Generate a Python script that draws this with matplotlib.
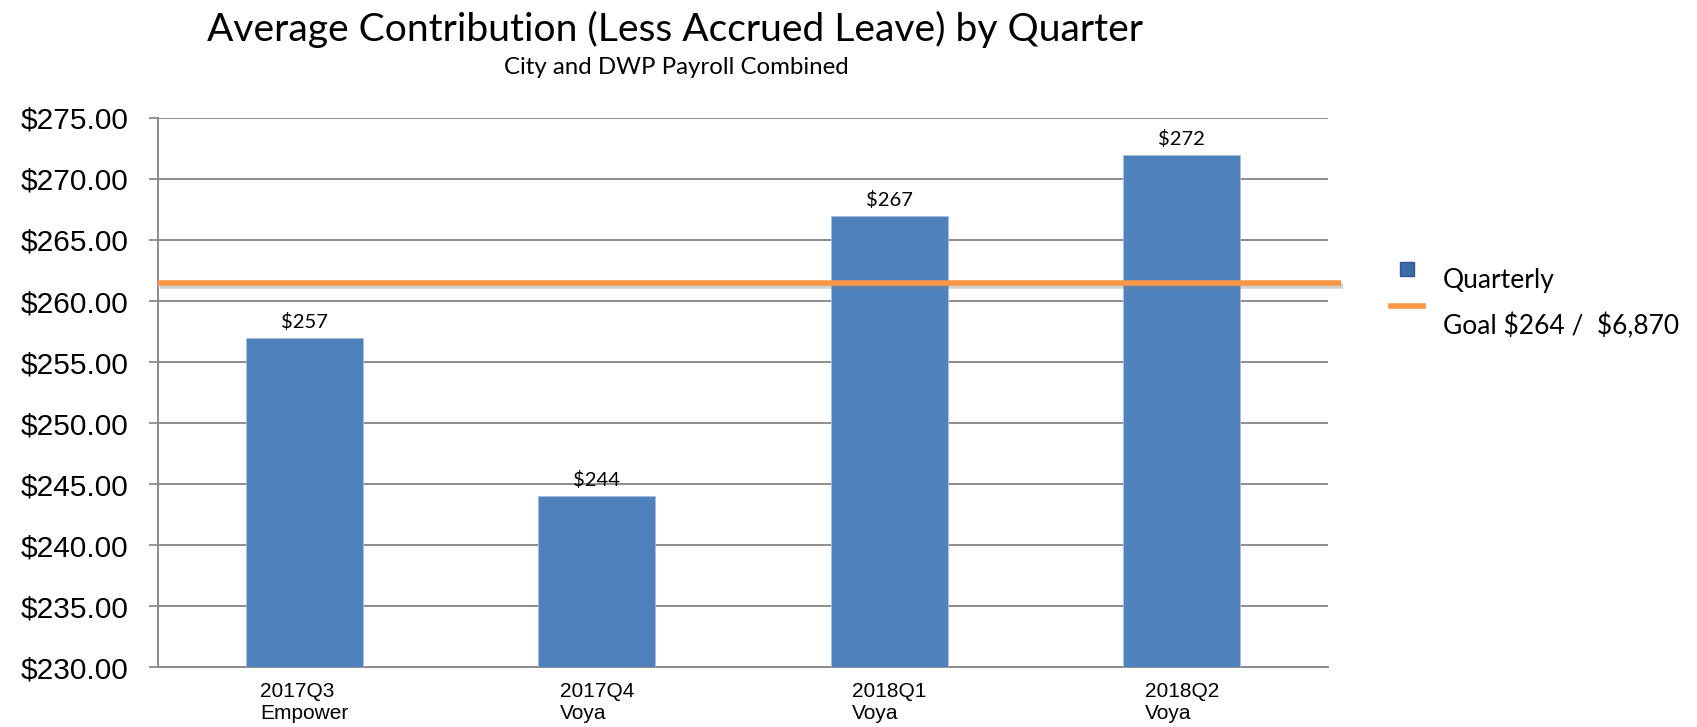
import matplotlib.pyplot as plt
import matplotlib.patheffects as pe
from matplotlib.lines import Line2D
from matplotlib.legend_handler import HandlerLine2D

# data
quarters = ["2017Q3", "2017Q4", "2018Q1", "2018Q2"]
providers = ["Empower", "Voya", "Voya", "Voya"]
avg_contribution = [257, 244, 267, 272]
goal_level = 261.5
goal_label = "Goal \\$264 /  \\$6,870"
y_ticks = [230, 235, 240, 245, 250, 255, 260, 265, 270, 275]

bar_color = "#4F81BD"
goal_color = "#F79646"
grid_color = "#8C8C8C"


class RaisedHandler(HandlerLine2D):
    """Legend handle drawn a bit above the text line, as Excel does."""
    def __init__(self, dy, **kw):
        super().__init__(**kw)
        self.dy = dy

    def create_artists(self, legend, orig_handle, xdescent, ydescent,
                       width, height, fontsize, trans):
        return super().create_artists(legend, orig_handle, xdescent, ydescent - self.dy,
                                      width, height, fontsize, trans)


fig = plt.figure(figsize=(16.97, 7.27), dpi=100)
ax = fig.add_axes([0.0931, 0.0825, 0.6895, 0.7552])

x = range(len(quarters))
bars = ax.bar(x, avg_contribution, width=0.4, color=bar_color,
              edgecolor="#A7BFDE", linewidth=0.6, zorder=3)
ax.bar_label(bars, labels=["${}".format(v) for v in avg_contribution],
             padding=5, fontsize=14.5, family="Lato", color="black")

# goal line, runs slightly past the plot edge like the original
ax.axhline(goal_level, xmin=0, xmax=1.011, color=goal_color, lw=4,
           clip_on=False, zorder=4, solid_capstyle="butt",
           path_effects=[pe.SimpleLineShadow(offset=(1.5, -2.5), shadow_color="gray", alpha=0.35),
                         pe.Normal()])

ax.set_ylim(230, 275)
ax.set_xlim(-0.5, 3.5)
ax.set_yticks(y_ticks)
ax.set_yticklabels(["${:.2f}".format(v) for v in y_ticks], family="Liberation Sans", fontsize=21.5)
ax.set_xticks(x)
ax.set_xticklabels(["{}\n{}".format(q, p) for q, p in zip(quarters, providers)],
                   family="Liberation Sans", fontsize=15)
for lbl in ax.get_xticklabels():
    lbl.set_multialignment("left")

ax.tick_params(axis="y", length=6.5, width=1.3, color=grid_color, pad=15)
ax.tick_params(axis="x", length=0, pad=11)
ax.yaxis.grid(True, color=grid_color, lw=1.4, zorder=0)
ax.set_axisbelow(True)
for side in ["top", "right"]:
    ax.spines[side].set_visible(False)
for side in ["left", "bottom"]:
    ax.spines[side].set_color(grid_color)
    ax.spines[side].set_linewidth(1.4)

fig.text(0.398, 0.959, "Average Contribution (Less Accrued Leave) by Quarter",
         ha="center", va="center", family="Lato", fontsize=28.1)
fig.text(0.3985, 0.9075, "City and DWP Payroll Combined",
         ha="center", va="center", family="Lato", fontsize=17.3)

quarter_handle = Line2D([], [], ls="none", marker="s", markersize=10,
                        markerfacecolor="#3F6AA8", markeredgecolor="#2F5590")
goal_handle = Line2D([], [], color=goal_color, lw=4)
fig.legend([quarter_handle, goal_handle], ["Quarterly", goal_label], loc="upper left",
           bbox_to_anchor=(0.8197, 0.631), frameon=False,
           prop={"family": "Lato", "size": 19}, handlelength=1.2,
           handletextpad=0.76, labelspacing=0.77, borderpad=0, borderaxespad=0,
           handler_map={quarter_handle: RaisedHandler(15),
                        goal_handle: RaisedHandler(28.8)})

fig.savefig("out.png", dpi=100)
